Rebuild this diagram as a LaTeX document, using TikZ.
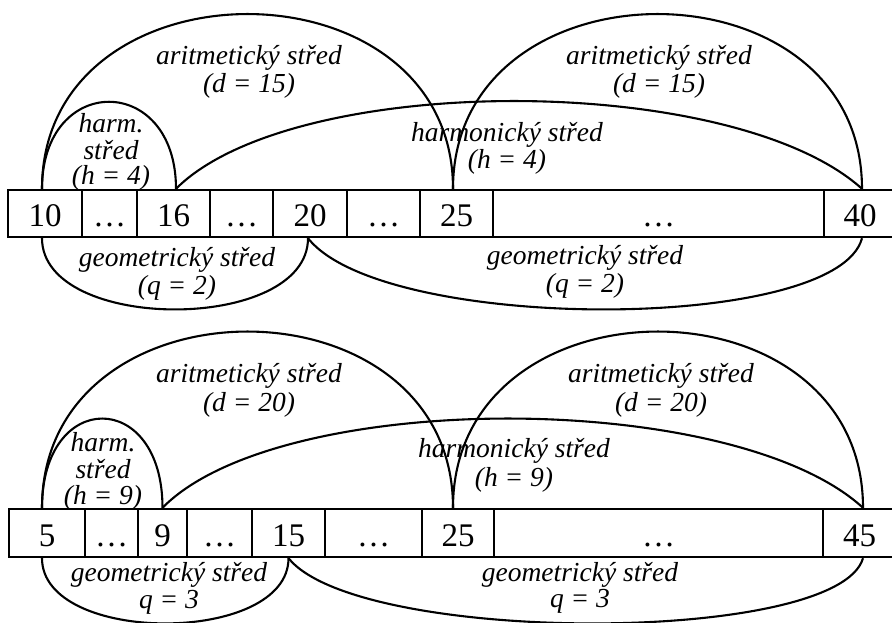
\documentclass[tikz,border=0pt]{standalone}
\usepackage{fontspec}
\setmainfont{Liberation Serif}
\newcommand\stk[2]{\fontsize{27.5}{#1}\selectfont\itshape\begin{tabular}[t]{@{}c@{}}#2\end{tabular}}
\begin{document}
\begin{tikzpicture}[x=1pt,y=1pt,
  cell/.style={draw, line width=2.4pt, inner sep=0pt, minimum height=47pt,
    text height=27pt, text depth=0pt, font=\fontsize{33}{36}\selectfont},
  arcline/.style={line width=2.1pt},
  lbl/.style={anchor=base, inner sep=0pt}]
\useasboundingbox (0,0) rectangle (892,623);
% ---- top row ----
\node[cell, minimum width=74pt]  (c1) at (45,409.5)    {10};
\node[cell, minimum width=55pt]  (c2) at (109.5,409.5) {\ldots};
\node[cell, minimum width=73pt]  (c3) at (173.5,409.5) {16};
\node[cell, minimum width=63pt]  (c4) at (241.5,409.5) {\ldots};
\node[cell, minimum width=74pt]  (c5) at (310,409.5)   {20};
\node[cell, minimum width=73pt]  (c6) at (383.5,409.5) {\ldots};
\node[cell, minimum width=73pt]  (c7) at (456.5,409.5) {25};
\node[cell, minimum width=331pt] (c8) at (658.5,409.5) {\ldots};
\node[cell, minimum width=72pt]  (c9) at (860,409.5)   {40};
% arcs above
\draw[arcline] ([xshift=-3pt]c1.north) .. controls +(0,233) and +(0,233) .. ([xshift=-3.5pt]c7.north);
\draw[arcline] ([xshift=-3.5pt]c7.north) .. controls +(0,233) and +(0,233) .. ([xshift=2pt]c9.north);
\draw[arcline] ([xshift=-3pt]c1.north) .. controls +(0,116) and +(0,116) .. ([xshift=2.5pt]c3.north);
\draw[arcline] ([xshift=2.5pt]c3.north) .. controls +(117,117) and +(-130,117) .. ([xshift=2pt]c9.north);
% arcs below
\draw[arcline] ([xshift=-3pt]c1.south) .. controls +(0,-95) and +(0,-95) .. ([xshift=-2pt]c5.south);
\draw[arcline] ([xshift=-2pt]c5.south) .. controls +(75,-95) and +(-25,-95) .. ([xshift=2pt]c9.south);
% labels
\node[lbl] (ta1) at (249,558) {\stk{28}{aritmetický střed\\(d = 15)}};
\node[lbl] (ta2) at (659,558) {\stk{28}{aritmetický střed\\(d = 15)}};
\node[lbl] (th1) at (111,490) {\stk{23}{harm.\\střed\\(h = 4)}};
\node[lbl] (th2) at (507,481) {\stk{26}{harmonický střed\\(h = 4)}};
\node[lbl] (tg1) at (177,356) {\stk{27}{geometrický střed\\(q = 2)}};
\node[lbl] (tg2) at (585,358) {\stk{27}{geometrický střed\\(q = 2)}};
% ---- bottom row ----
\node[cell, minimum width=76pt, minimum height=48pt]  (d1) at (47,90)    {5};
\node[cell, minimum width=53pt, minimum height=48pt]  (d2) at (111.5,90) {\ldots};
\node[cell, minimum width=49pt, minimum height=48pt]  (d3) at (162.5,90) {9};
\node[cell, minimum width=65pt, minimum height=48pt]  (d4) at (219.5,90) {\ldots};
\node[cell, minimum width=73pt, minimum height=48pt]  (d5) at (288.5,90) {15};
\node[cell, minimum width=97pt, minimum height=48pt]  (d6) at (373.5,90) {\ldots};
\node[cell, minimum width=72pt, minimum height=48pt]  (d7) at (458,90)   {25};
\node[cell, minimum width=329pt, minimum height=48pt] (d8) at (658.5,90) {\ldots};
\node[cell, minimum width=73pt, minimum height=48pt]  (d9) at (859.5,90) {45};
% arcs above
\draw[arcline] ([xshift=-5pt]d1.north) .. controls +(0,235) and +(0,235) .. ([xshift=-5pt]d7.north);
\draw[arcline] ([xshift=-5pt]d7.north) .. controls +(0,235) and +(0,235) .. ([xshift=3.5pt]d9.north);
\draw[arcline] ([xshift=-5pt]d1.north) .. controls +(0,119) and +(0,119) .. (d3.north);
\draw[arcline] (d3.north) .. controls +(117,119) and +(-130,119) .. ([xshift=3.5pt]d9.north);
% arcs below
\draw[arcline] ([xshift=-5pt]d1.south) .. controls +(0,-87) and +(0,-87) .. (d5.south);
\draw[arcline] (d5.south) .. controls +(70,-87) and +(-25,-87) .. ([xshift=3.5pt]d9.south);
% labels
\node[lbl] (ba1) at (249,240) {\stk{29}{aritmetický střed\\(d = 20)}};
\node[lbl] (ba2) at (661,240) {\stk{29}{aritmetický střed\\(d = 20)}};
\node[lbl] (bh1) at (103,171) {\stk{24}{harm.\\střed\\(h = 9)}};
\node[lbl] (bh2) at (514,165) {\stk{29}{harmonický střed\\(h = 9)}};
\node[lbl] (bg1) at (169,41)  {\stk{26}{geometrický střed\\q = 3}};
\node[lbl] (bg2) at (580,41)  {\stk{25}{geometrický střed\\q = 3}};
\end{tikzpicture}
\end{document}
